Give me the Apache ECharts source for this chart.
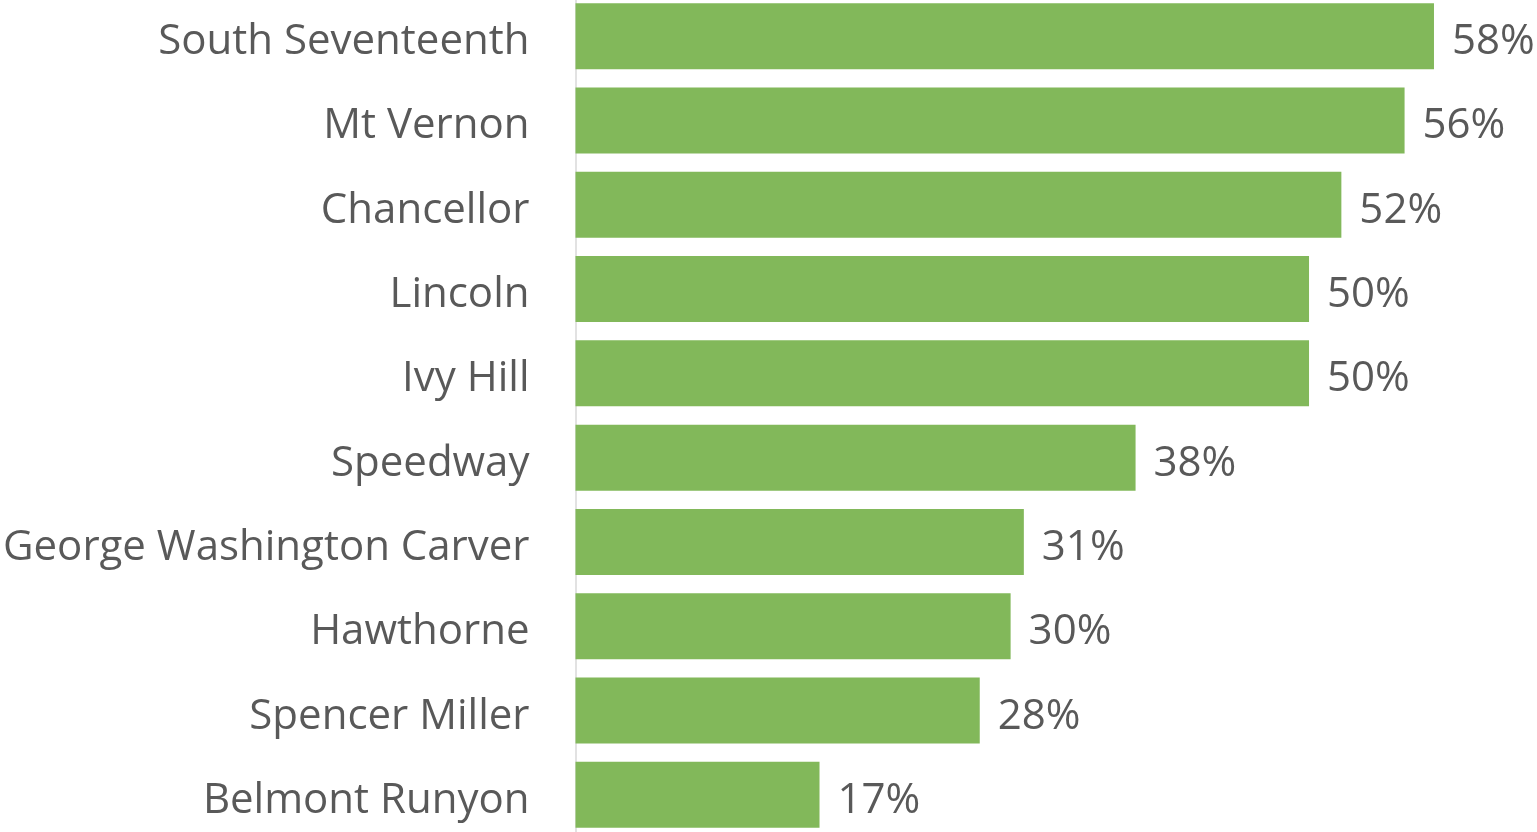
<!DOCTYPE html>
<html>
<head>
<meta charset="utf-8">
<script src="https://cdn.jsdelivr.net/npm/echarts@6/dist/echarts.min.js"></script>
<style>
  html, body { margin: 0; padding: 0; background: #fff; overflow: hidden; }
  /* the plot runs a little past the top and bottom edge in the original */
  #chart { position: absolute; left: 0; top: -6px; width: 1537px; height: 843px; }
</style>
</head>
<body>
<div id="chart"></div>
<script>
// categories, top to bottom as shown
const schools = [
  'South Seventeenth', 'Mt Vernon', 'Chancellor', 'Lincoln', 'Ivy Hill',
  'Speedway', 'George Washington Carver', 'Hawthorne', 'Spencer Miller', 'Belmont Runyon'
]
// share
const shares = [0.584, 0.564, 0.521, 0.499, 0.499, 0.381, 0.305, 0.296, 0.275, 0.166]

const chart = echarts.init(document.getElementById('chart'))

const textColor = '#595959'
const fontFamily = '"Open Sans", sans-serif'

chart.setOption({
  animation: false,
  grid: { left: 574, right: 6, top: 0, bottom: 0, containLabel: false },
  xAxis: {
    type: 'value',
    min: 0,
    max: 0.65,
    show: false
  },
  yAxis: {
    type: 'category',
    inverse: true,
    data: schools,
    axisLine: { show: true, lineStyle: { color: '#d9d9d9', width: 1.5 } },
    axisTick: { show: false },
    axisLabel: {
      margin: 46,
      formatter: v => '{t|' + v + '}',
      rich: {
        // nudged down a bit, the original text sits below the bar centre
        t: { color: textColor, fontSize: 42, fontFamily, padding: [12, 0, 0, 0] }
      }
    }
  },
  series: [{
    type: 'bar',
    data: shares,
    barCategoryGap: '21.7%',
    itemStyle: { color: '#82b85a' },
    label: {
      show: true,
      position: 'right',
      distance: 18,
      offset: [0, 6],
      color: textColor,
      fontSize: 42,
      fontFamily,
      formatter: p => Math.round(p.value * 100) + '%'
    }
  }]
})
</script>
</body>
</html>
